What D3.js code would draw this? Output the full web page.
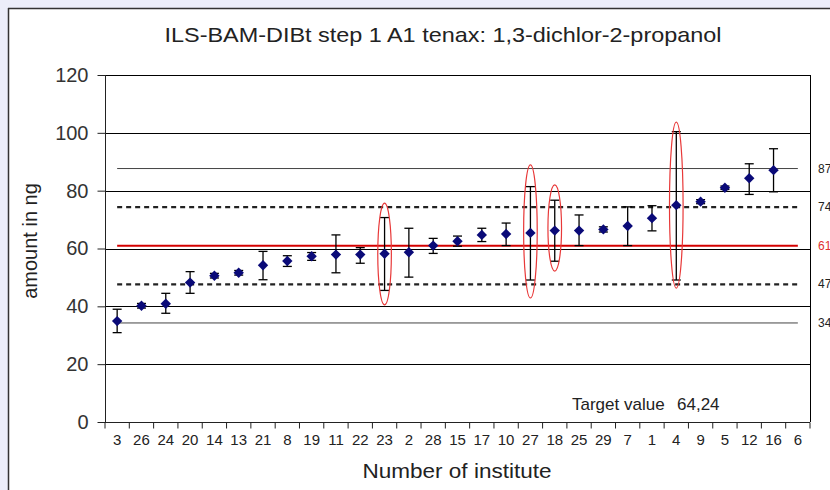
<!DOCTYPE html>
<html><head><meta charset="utf-8">
<script src="https://cdn.jsdelivr.net/npm/d3@7"></script>
<style>
html,body{margin:0;padding:0;background:#eceefa;}
svg{display:block;font-family:"Liberation Sans",Arial,sans-serif;}
</style></head>
<body>
<svg id="c" width="830" height="490"></svg>
<script>
const institutes = ["3","26","24","20","14","13","21","8","19","11","22","23","2","28","15","17","10","27","18","25","29","7","1","4","9","5","12","16","6"];
const means   = [34.9,40.2,40.9,48.2,50.6,51.6,54.2,55.7,57.3,57.9,57.9,58.2,58.7,61.0,62.5,64.7,65.0,65.4,66.2,66.2,66.6,67.8,70.5,75.0,76.2,81.0,84.3,87.1,null];
const errLow  = [30.9,39.4,37.6,44.5,49.8,50.8,49.2,53.8,55.9,51.6,54.9,45.5,50.1,58.3,60.8,62.4,61.0,49.1,55.6,61.0,65.7,61.0,66.1,49.1,75.5,80.4,78.7,79.6,null];
const errHigh = [39.0,41.0,44.5,52.0,51.4,52.4,59.0,57.5,58.6,64.7,60.3,70.7,67.0,63.5,64.3,67.0,68.8,81.4,76.7,71.6,67.5,74.4,74.8,100.4,76.9,81.6,89.3,94.5,null];
const refValues = [87.65,74.3,60.95,47.6,34.25];
const refLabels = ["87","74","61","47","34"];
const refKinds  = ["thin","dashed","red","dashed","thin"];
const ellipseInst = ["23","27","18","4"];
const ellipseLow  = [40.5,42.9,52.2,46.3];
const ellipseHigh = [75.7,88.9,82.0,103.7];
const yTicks = [0,20,40,60,80,100,120];
const titleText = "ILS-BAM-DIBt step 1 A1 tenax: 1,3-dichlor-2-propanol";
const xTitle = "Number of institute";
const yTitle = "amount in ng";
const targetLabel = "Target value";
const targetValue = "64,24";

const svg = d3.select("#c");
// white panel
svg.append("rect").attr("x",8).attr("y",8).attr("width",830).attr("height",490).attr("fill","#fff");
svg.append("line").attr("x1",8).attr("x2",830).attr("y1",8.5).attr("y2",8.5).attr("stroke","#333").attr("stroke-width",1.5);
svg.append("line").attr("x1",8.5).attr("x2",8.5).attr("y1",8).attr("y2",490).attr("stroke","#333").attr("stroke-width",1.5);

const L=105, R=810, T=75, B=422;
const x = d3.scaleBand().domain(institutes).range([L,R]);
const y = d3.scaleLinear().domain([0,120]).range([B,T]);

// gridlines
svg.append("g").selectAll("line").data(yTicks.filter(d=>d>0)).join("line")
  .attr("x1",L).attr("x2",R).attr("y1",d=>Math.round(y(d))+0.5).attr("y2",d=>Math.round(y(d))+0.5)
  .attr("stroke","#000").attr("stroke-width",1);
svg.append("line").attr("x1",R+0.5).attr("x2",R+0.5).attr("y1",T).attr("y2",B).attr("stroke","#000");

// reference lines
const x0 = x(institutes[0])+x.bandwidth()/2, x1 = x(institutes[institutes.length-1])+x.bandwidth()/2;
refValues.forEach((v,i)=>{
  const k = refKinds[i];
  const ln = svg.append("line").attr("x1",x0).attr("x2",x1).attr("y1",y(v)).attr("y2",y(v));
  if(k==="thin") ln.attr("stroke","#444").attr("stroke-width",1);
  else if(k==="dashed") ln.attr("stroke","#222").attr("stroke-width",2.2).attr("stroke-dasharray","5,4");
  else ln.attr("stroke","#d40000").attr("stroke-width",2);
  svg.append("text").attr("x",818).attr("y",y(v)+4).attr("font-size",12)
    .attr("fill",k==="red"?"#e03030":"#222").text(refLabels[i]);
});

// axes
const yAxis = d3.axisLeft(y).tickValues(yTicks).tickSize(8).tickPadding(9);
const gy = svg.append("g").attr("transform",`translate(${L+0.5},0)`).call(yAxis);
gy.selectAll("text").attr("font-size",20).attr("fill","#333").attr("font-family","Liberation Sans, Arial, sans-serif");
gy.selectAll("line,path").attr("stroke","#222");
gy.select(".domain").attr("d",`M0,${T}V${B}`);

const xAxis = d3.axisBottom(x).tickSize(0).tickPadding(12);
const gx = svg.append("g").attr("transform",`translate(0,${B+0.5})`).call(xAxis);
gx.selectAll("text").attr("font-size",15).attr("fill","#222").attr("font-family","Liberation Sans, Arial, sans-serif");
gx.select(".domain").attr("stroke","#222").attr("d",`M${L},0H${R}`);
gx.append("g").selectAll("line").data(institutes).join("line")
  .attr("x1",d=>x(d)+x.bandwidth()).attr("x2",d=>x(d)+x.bandwidth()).attr("y1",0).attr("y2",6).attr("stroke","#222");
gx.append("line").attr("x1",L).attr("x2",L).attr("y1",0).attr("y2",6).attr("stroke","#222");

// data
const pts = institutes.map((d,i)=>({inst:d,m:means[i],lo:errLow[i],hi:errHigh[i]})).filter(d=>d.m!=null);
const cx = d=>x(d.inst)+x.bandwidth()/2;
const g = svg.append("g");
g.selectAll("line.eb").data(pts).join("line").attr("class","eb")
  .attr("x1",cx).attr("x2",cx).attr("y1",d=>y(d.lo)).attr("y2",d=>y(d.hi)).attr("stroke","#000").attr("stroke-width",1.3);
["lo","hi"].forEach(k=>{
  g.selectAll("line.cap"+k).data(pts).join("line").attr("class","cap"+k)
    .attr("x1",d=>cx(d)-4.5).attr("x2",d=>cx(d)+4.5).attr("y1",d=>y(d[k])).attr("y2",d=>y(d[k]))
    .attr("stroke","#000").attr("stroke-width",1.3);
});
g.selectAll("path.pt").data(pts).join("path").attr("class","pt")
  .attr("d",d3.symbol(d3.symbolSquare,54))
  .attr("transform",d=>`translate(${cx(d)},${y(d.m)}) rotate(45)`)
  .attr("fill","#0a0a78");

// ellipses
ellipseInst.forEach((inst,i)=>{
  svg.append("ellipse").attr("cx",x(inst)+x.bandwidth()/2)
    .attr("cy",(y(ellipseLow[i])+y(ellipseHigh[i]))/2)
    .attr("rx",6.8).attr("ry",(y(ellipseLow[i])-y(ellipseHigh[i]))/2)
    .attr("fill","none").attr("stroke","#e83838").attr("stroke-width",1.2);
});

// texts
svg.append("text").attr("x",443).attr("y",42).attr("text-anchor","middle").attr("font-size",21)
  .attr("textLength",557).attr("lengthAdjust","spacingAndGlyphs").attr("fill","#222").text(titleText);
svg.append("text").attr("x",457).attr("y",478).attr("text-anchor","middle").attr("font-size",21)
  .attr("textLength",189).attr("lengthAdjust","spacingAndGlyphs").attr("fill","#222").text(xTitle);
svg.append("text").attr("transform","translate(37,241) rotate(-90)").attr("text-anchor","middle").attr("font-size",20).attr("fill","#222").text(yTitle);
svg.append("text").attr("x",572).attr("y",410).attr("font-size",17).attr("fill","#222").text(targetLabel);
svg.append("text").attr("x",677).attr("y",410).attr("font-size",17).attr("fill","#222").text(targetValue);
</script>
</body></html>
